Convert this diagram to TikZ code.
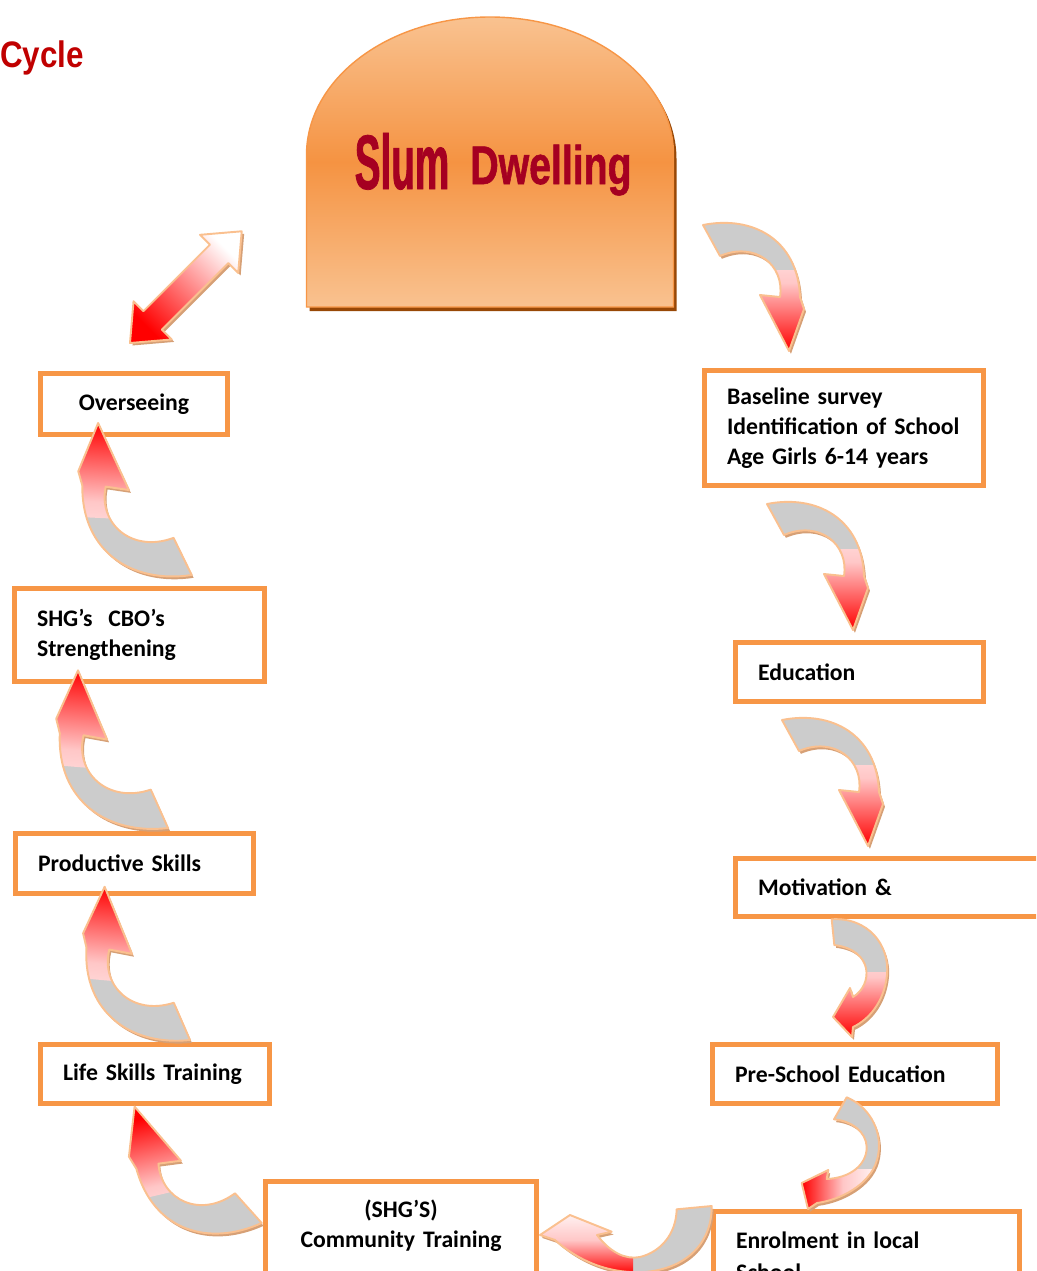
\documentclass[tikz,border=0pt]{standalone}
\usepackage{fontspec}
\setmainfont{Carlito}
\newfontfamily\titlefont[FakeStretch=0.85]{Liberation Sans}
\newfontfamily\slumfont[FakeStretch=0.5,FakeBold=1]{Liberation Sans}
\newfontfamily\dwellfont[FakeStretch=0.72,FakeBold=1]{Liberation Sans}

\definecolor{boxorange}{RGB}{247,150,70}
\definecolor{arrowpeach}{RGB}{250,192,143}
\definecolor{arrowtan}{RGB}{214,160,118}
\definecolor{arrowgray}{RGB}{204,204,204}
\definecolor{slumlight}{RGB}{249,194,144}
\definecolor{slumdark}{RGB}{245,147,66}
\definecolor{slumshadow}{RGB}{152,72,6}
\definecolor{slumtext}{RGB}{165,0,33}
\definecolor{titlered}{RGB}{192,0,0}

\tikzset{ cyclebox/.style = { rectangle % step of the cycle
        , draw = boxorange
        , line width = 2.9pt
        , fill = white
        , font = \bfseries\fontsize{13.5}{17}\selectfont
        , align = left
        , inner xsep = 0.45cm
        , anchor = north west
        }
        , openbox/.style = { cyclebox % box running off the page
        , inner ysep = 0.36cm
        , text depth = 2cm
        }
        , arrowrim/.style = { draw = arrowpeach
        , line width = 1.1pt
        , line join = round
        }
        }

% bent block arrow, tail at (0,0), head pointing down
\def\bendpath{(0,0) .. controls (50,-10) and (95,15) .. (97,72) -- (101,84) -- (86,126) -- (57,70) -- (77,72) .. controls (82,40) and (52,16) .. (17,31) -- cycle}
\def\redpart{(-20,45) rectangle (130,140)}
\newcommand{\cyclearrow}[3]{% path, red part, shading angle
  \begin{scope}[transform canvas={xshift=1.1pt,yshift=-1.6pt}]
    \fill[arrowtan] #1;
  \end{scope}
  \fill[arrowgray] #1;
  \begin{scope}
    \clip #2;
    \shade[top color=white, bottom color=red, middle color=red!22, shading angle=#3] #1;
  \end{scope}
  \draw[arrowrim] #1;
}

\begin{document}
\begin{tikzpicture}[x=0.02cm, y=-0.02cm]
\useasboundingbox (0,0) rectangle (1036,1271);
\clip (0,0) rectangle (1036,1271);

\node[anchor=base west, inner sep=0, text=titlered, font=\titlefont\bfseries\fontsize{21}{21}\selectfont] (title) at (0,67) {Cycle};

% slum dwelling
\def\slumpath{(306.5,307) -- (306.5,155) .. controls (306.5,78.8) and (388.4,17) .. (490,17) .. controls (591.6,17) and (673.5,78.8) .. (673.5,155) -- (673.5,307) -- cycle}
\fill[slumshadow, shift={(3,4)}] \slumpath;
\shade[top color=slumlight, bottom color=slumlight, middle color=slumdark, draw=boxorange, line width=0.8pt] \slumpath;
\node[anchor=base, inner sep=0, text=slumtext, font=\slumfont\bfseries\fontsize{44}{44}\selectfont] (slum) at (402,189) {Slum};
\node[anchor=base west, inner sep=0, text=slumtext, font=\dwellfont\bfseries\fontsize{31}{31}\selectfont] (dwelling) at (470,184) {Dwelling};

% steps
\node[cyclebox, align=center, text width=2.84cm, minimum height=1.22cm] (overseeing) at (38,371) {Overseeing};
\node[cyclebox, text width=4.68cm, minimum height=2.3cm] (baseline) at (702,368) {Baseline survey\\Identification of School\\Age Girls 6-14 years};
\node[cyclebox, text width=4.1cm, minimum height=1.86cm] (shg) at (12,586) {SHG’s~~CBO’s\\Strengthening};
\node[cyclebox, text width=4.06cm, minimum height=1.18cm] (education) at (733,640) {Education};
\node[cyclebox, text width=3.86cm, minimum height=1.2cm] (productive) at (13,831) {Productive Skills};
\node[cyclebox, text width=5.54cm, minimum height=1.16cm] (motivation) at (733,856) {Motivation \&};
\node[cyclebox, text width=3.68cm, minimum height=1.18cm] (lifeskills) at (38,1042) {Life Skills Training};
\node[cyclebox, text width=4.8cm, minimum height=1.18cm] (preschool) at (710,1042) {Pre-School Education};
\node[openbox, align=center, text width=4.52cm] (community) at (263,1179) {(SHG’S)\\Community Training};
\node[openbox, inner ysep=0.41cm, text width=5.22cm] (enrolment) at (711,1209) {Enrolment in local\\[1pt]School};

% two-way arrow
\def\twinpath{(0,0) -- (32,-27) -- (32,-13) -- (126,-13) -- (126,-27) -- (158,0) -- (126,27) -- (126,13) -- (32,13) -- (32,27) -- cycle}
\begin{scope}[shift={(130,343)}, rotate=45]
  \begin{scope}[transform canvas={xshift=1.4pt,yshift=-1.4pt}]
    \fill[arrowtan] \twinpath;
  \end{scope}
  \shade[top color=white, bottom color=red, shading angle=-45] \twinpath;
  \draw[arrowrim] \twinpath;
\end{scope}

% right side, going down
\begin{scope}[shift={(703,225)}]
  \cyclearrow{\bendpath}{\redpart}{0}
\end{scope}
\begin{scope}[shift={(767,504)}]
  \cyclearrow{\bendpath}{\redpart}{0}
\end{scope}
\begin{scope}[shift={(782,720)}]
  \cyclearrow{\bendpath}{\redpart}{0}
\end{scope}
\cyclearrow{(831.7,919.3) .. controls (868,917) and (890,945) .. (887,975) .. controls (884,1003) and (868,1020) .. (853,1027) -- (852,1037) -- (833,1017) -- (850,988) -- (853,997) .. controls (873,985) and (874,950) .. (834.3,945) -- cycle}{(800,972) rectangle (900,1045)}{0}
\cyclearrow{(846.7,1097.3) .. controls (872,1108) and (884,1135) .. (877,1160) .. controls (870,1185) and (840,1200) .. (817,1203) -- (808,1209) -- (801.7,1183) -- (828.3,1170) -- (826.7,1179) .. controls (850,1178) and (867,1165) .. (866.7,1146.7) .. controls (866,1132) and (852,1121) .. (834,1119.3) -- cycle}{(790,1169) rectangle (890,1220)}{-90}
\cyclearrow{(711.7,1206) .. controls (712,1240) and (690,1268) .. (645,1272) .. controls (610,1274) and (580,1262) .. (555,1240) -- (540,1235) -- (570,1215) -- (611.7,1231.7) -- (597,1235) .. controls (610,1252) and (625,1260) .. (640,1257) .. controls (660,1252) and (676,1235) .. (676.7,1209.3) -- cycle}{(520,1190) rectangle (633,1280)}{0}

% left side, going up
\begin{scope}[shift={(261.7,1223)}, rotate=-166.8, scale=1.13]
  \cyclearrow{\bendpath}{\redpart}{-166.8}
\end{scope}
\begin{scope}[shift={(190,1040)}, rotate=-185.2, scale=1.15]
  \cyclearrow{\bendpath}{\redpart}{-185.2}
\end{scope}
\begin{scope}[shift={(168,828)}, rotate=-184.6, scale=1.19]
  \cyclearrow{\bendpath}{\redpart}{-184.6}
\end{scope}
\begin{scope}[shift={(191.7,575)}, rotate=-182.7, scale=1.17]
  \cyclearrow{\bendpath}{\redpart}{-182.7}
\end{scope}
\end{tikzpicture}
\end{document}
